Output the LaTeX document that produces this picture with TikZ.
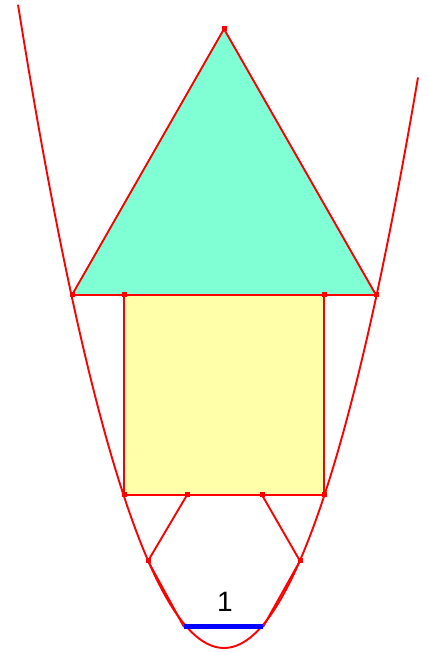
\documentclass[tikz,border=0pt]{standalone}
\usepackage{fontspec}
\setmainfont{Liberation Sans}
\usepackage{xcolor}
\definecolor{aqua}{RGB}{128,255,212}
\definecolor{paleyellow}{RGB}{255,255,170}

\begin{document}
\begin{tikzpicture}[x=1pt,y=1pt]
% Define styles
\tikzstyle{edge}=[draw=red, line width=1.9pt, line join=round]
\tikzstyle{curve}=[draw=red, line width=1.9pt]
\tikzstyle{unitseg}=[draw=blue, line width=5pt]
\tikzstyle{dotpt}=[rectangle, fill=red, minimum size=5pt, inner sep=0pt]

\useasboundingbox (0,0) rectangle (430,652);

% Vertices
\coordinate (apex) at (224,623);
\coordinate (triL) at (72,357);
\coordinate (triR) at (376,357);
\coordinate (sqTL) at (124,357);
\coordinate (sqTR) at (324,357);
\coordinate (sqBL) at (124,157);
\coordinate (sqBR) at (324,157);
\coordinate (hexTL) at (187,157);
\coordinate (hexTR) at (262,157);
\coordinate (hexL) at (148,91);
\coordinate (hexR) at (300,91);
\coordinate (hexBL) at (184,25);
\coordinate (hexBR) at (263,25);

% Fills
\fill[aqua] (apex) -- (triL) -- (triR) -- cycle;
\fill[paleyellow] (sqTL) -- (sqTR) -- (sqBR) -- (sqBL) -- cycle;

% Parabola
\draw[curve] plot[domain=18:418, samples=120] (\x, {4+(0.12313*(\x-224))^2});

% Outlines
\draw[edge] (apex) -- (triL) -- (triR) -- cycle;
\draw[edge] (sqTL) -- (sqTR) -- (sqBR) -- (sqBL) -- cycle;
\draw[edge] (hexTL) -- (hexL) -- (hexBL);
\draw[edge] (hexTR) -- (hexR) -- (hexBR);

% Unit segment
\draw[unitseg] (hexBL) -- (hexBR);
\node[font=\fontsize{28}{32}\selectfont] (one) at (225,50) {1};

% Points
\foreach \p in {apex,triL,triR,sqTL,sqTR,sqBL,sqBR,hexTL,hexTR,hexL,hexR}
  \node[dotpt] (m-\p) at (\p) {};
\end{tikzpicture}
\end{document}
